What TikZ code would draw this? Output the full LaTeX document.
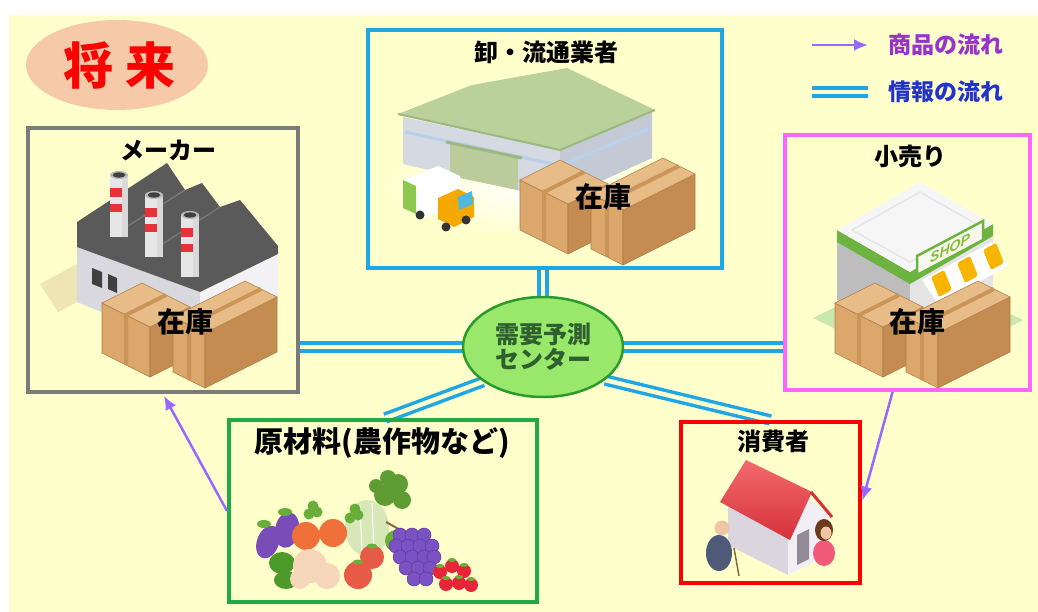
\documentclass[tikz,border=0pt]{standalone}
\usepackage{fontspec}
\newfontfamily\jp{Noto Sans CJK JP}
\newfontfamily\shopfont{Liberation Sans}
\usetikzlibrary{arrows.meta,calc,shapes.geometric}
\definecolor{bgc}{HTML}{FFFFCC}
\definecolor{titlebg}{HTML}{F6C9A9}
\definecolor{infoc}{HTML}{1EA7E6}
\definecolor{goodsc}{HTML}{9966FF}
\definecolor{makerc}{HTML}{7A7A7A}
\definecolor{retailc}{HTML}{FF66FF}
\definecolor{rawc}{HTML}{22AA44}
\definecolor{consc}{HTML}{FF0000}
\definecolor{hubfill}{HTML}{99E86C}
\definecolor{hubline}{HTML}{2A9A2A}
\definecolor{hubtext}{HTML}{2F5E2F}
\definecolor{legp}{HTML}{9933CC}
\definecolor{legb}{HTML}{2233CC}
% cardboard
\definecolor{cbtop}{HTML}{E8BC86}
\definecolor{cbleft}{HTML}{DBA76A}
\definecolor{cbright}{HTML}{C48C50}
\definecolor{cbtape}{HTML}{C99558}
\definecolor{cbedge}{HTML}{B07C48}
% factory
\definecolor{froof}{HTML}{5A5A5A}
\definecolor{froofline}{HTML}{7A7A7A}
\definecolor{fwallL}{HTML}{D8D8DE}
\definecolor{fwallR}{HTML}{F2F2F4}
\definecolor{fshadow}{HTML}{EEE4B4}
\definecolor{chim}{HTML}{E6E6E6}
\definecolor{chimred}{HTML}{E8323A}
% warehouse
\definecolor{wwallL}{HTML}{D4D9E2}
\definecolor{wwallR}{HTML}{C3CAD6}
\definecolor{wstripe}{HTML}{B8D0EA}
\definecolor{wroof}{HTML}{BBD19C}
\definecolor{wroofedge}{HTML}{9DB77E}
\definecolor{wdoor}{HTML}{BACB9C}
\definecolor{tcab}{HTML}{F5A800}
\definecolor{tglass}{HTML}{4FB8E0}
\definecolor{tgreen}{HTML}{8CC850}
% shop
\definecolor{sgrass}{HTML}{CBE7B0}
\definecolor{swallL}{HTML}{BDBDBD}
\definecolor{swallR}{HTML}{E4E4E4}
\definecolor{sgreen}{HTML}{6DB33F}
\definecolor{sroof}{HTML}{F6F6F6}
\definecolor{ssign}{HTML}{F7F7EC}
\definecolor{sawn}{HTML}{F7B500}
% house
\definecolor{hwall}{HTML}{DAD4DE}
\definecolor{hgable}{HTML}{F1EFF4}
\definecolor{hroofA}{HTML}{F26A6E}
\definecolor{hroofB}{HTML}{D6303A}
\definecolor{hdoor}{HTML}{928A96}
\definecolor{skin}{HTML}{EEC6A6}
\definecolor{mancoat}{HTML}{4E5A78}
\definecolor{hair}{HTML}{6B3A1E}
\definecolor{dress}{HTML}{F05A78}
% produce
\definecolor{eggc}{HTML}{7A4CB8}
\definecolor{leafc}{HTML}{6AAE3A}
\definecolor{pepc}{HTML}{4C9A2A}
\definecolor{orangec}{HTML}{F0703A}
\definecolor{caulic}{HTML}{F6D6B8}
\definecolor{cabbc}{HTML}{D6E8B8}
\definecolor{tomc}{HTML}{E65A46}
\definecolor{grapec}{HTML}{7B52C4}
\definecolor{grapeedge}{HTML}{5E3A9E}
\definecolor{berryc}{HTML}{E62638}
\definecolor{stemc}{HTML}{8A6A3A}
\pgfdeclarelayer{bg}
\pgfdeclarelayer{lines}
\pgfsetlayers{bg,lines,main}
\tikzset{
  frame/.style={draw, line width=4pt, inner sep=0pt},
  boxtitle/.style={font={\jp\fontsize{24}{26}\selectfont\bfseries}, inner sep=0pt},
  stock/.style={font={\jp\fontsize{28}{30}\selectfont\bfseries}, inner sep=0pt},
  info/.style={draw=infoc, line width=3.5pt, double=bgc, double distance=4.5pt},
  goods/.style={draw=goodsc, line width=2.5pt, -{Latex[length=14pt,width=12pt]}},
  cartons/.pic={
    % back carton
    \filldraw[cbedge, fill=cbleft, line width=0.6pt] (0,22) -- (48,46) -- (48,96) -- (0,72) -- cycle;
    \filldraw[cbedge, fill=cbright, line width=0.6pt] (48,46) -- (88,26) -- (88,76) -- (48,96) -- cycle;
    \filldraw[cbedge, fill=cbtop, line width=0.6pt] (0,22) -- (40,2) -- (88,26) -- (48,46) -- cycle;
    \draw[cbtape, line width=4pt] (64,14) -- (24,34) -- (24,84);
    % front carton
    \filldraw[cbedge, fill=cbleft, line width=0.6pt] (71,36) -- (103,52) -- (103,107) -- (71,91) -- cycle;
    \filldraw[cbedge, fill=cbright, line width=0.6pt] (103,52) -- (175,16) -- (175,71) -- (103,107) -- cycle;
    \filldraw[cbedge, fill=cbtop, line width=0.6pt] (71,36) -- (143,0) -- (175,16) -- (103,52) -- cycle;
    \draw[cbtape, line width=4pt] (159,8) -- (87,44) -- (87,99);
  },
  chimney/.pic={
    \fill[chim] (-9,0) rectangle (9,62);
    \fill[chimred] (-9,13) rectangle (9,22);
    \fill[chimred] (-9,29) rectangle (9,37);
    \fill[black!15] (3,0) rectangle (9,62);
    \fill[chim!80!black] (0,0) ellipse (9 and 4);
    \fill[black!75] (0,0) ellipse (6.5 and 2.6);
  }
}
\begin{document}
\begin{tikzpicture}[x=1pt,y=-1pt]
\useasboundingbox (0,0) rectangle (1038,612);
\begin{pgfonlayer}{bg}
  \fill[white] (0,0) rectangle (1038,612);
  \fill[bgc] (9,15) rectangle (1038,612);
\end{pgfonlayer}

% heading
\node[ellipse, fill=titlebg, minimum width=182pt, minimum height=90pt, inner sep=0pt,
      text=red, font={\jp\fontsize{50}{52}\selectfont\bfseries}] (title) at (117,65)
      {\hspace{4pt}将\hspace{12pt}来};

% legend
\coordinate (lgA) at (812,45);
\coordinate (lgB) at (868,45);
\coordinate (lgC) at (812,92);
\coordinate (lgD) at (868,92);
\draw[goods] (lgA) -- (lgB);
\draw[info] (lgC) -- (lgD);
\node[font={\jp\fontsize{23}{25}\selectfont\bfseries}, text=legp, inner sep=0pt] (lgtxtA) at (946,45) {商品の流れ};
\node[font={\jp\fontsize{23}{25}\selectfont\bfseries}, text=legb, inner sep=0pt] (lgtxtB) at (946,92) {情報の流れ};

% ---------- factory ----------
\fill[fshadow] (40,284) -- (77,264) -- (77,302) -- (58,312) -- cycle;
\fill[fwallL] (77,247) -- (200,292) -- (200,352) -- (77,302) -- cycle;
\fill[fwallR] (200,292) -- (278,254) -- (278,302) -- (200,352) -- cycle;
\fill[froof] (77,222) -- (167,163) -- (185,190) -- (202,183) -- (220,207) -- (240,200)
   -- (278,246) -- (278,254) -- (200,292) -- (77,247) -- cycle;
\draw[froofline, line width=1.2pt] (185,190) -- (112,236) (220,207) -- (150,252);
\fill[black!75] (92,268) -- (102,272) -- (102,288) -- (92,284) -- cycle;
\fill[black!75] (108,274) -- (117,278) -- (117,293) -- (108,289) -- cycle;
\pic at (119,175) {chimney};
\pic at (154,195) {chimney};
\pic at (190,215) {chimney};
\pic at (102,281) {cartons};

% ---------- warehouse ----------
\shade[inner color=white, outer color=bgc] (540,188) ellipse (160 and 48);
\fill[wwallL] (403,117) -- (560,150) -- (560,200) -- (403,164) -- cycle;
\fill[wwallR] (560,150) -- (652,112) -- (652,158) -- (560,200) -- cycle;
\draw[wstripe, line width=3pt] (405,132) -- (558,165);
\draw[wstripe, line width=3pt] (562,165) -- (650,128);
\fill[wdoor] (450,144) -- (518,158) -- (518,190) -- (450,176) -- cycle;
\draw[wroofedge, line width=3pt] (446,142) -- (522,158);
\fill[wroof] (398,114) -- (472,85) -- (567,68) -- (655,110) -- (560,150) -- cycle;
\draw[wroofedge, line width=2pt] (398,114) -- (560,150) -- (655,110);
% truck
\fill[white] (403,180) -- (438,166) -- (460,176) -- (460,204) -- (424,218) -- (403,208) -- cycle;
\fill[tgreen] (403,180) -- (416,186) -- (416,214) -- (403,208) -- cycle;
\fill[tcab] (438,198) -- (458,189) -- (474,197) -- (474,217) -- (454,227) -- (438,219) -- cycle;
\fill[tglass] (458,197) -- (472,191) -- (473,204) -- (459,210) -- cycle;
\fill[black!80] (420,215) circle (4.5);
\fill[black!80] (446,227) circle (4.5);
\fill[black!80] (466,220) circle (4.5);
\pic at (520,158) {cartons};

% ---------- shop ----------
\fill[sgrass] (813,318) -- (915,268) -- (1023,320) -- (923,372) -- cycle;
\fill[swallL] (837,240) -- (910,283) -- (910,342) -- (837,300) -- cycle;
\fill[swallR] (910,283) -- (993,236) -- (993,292) -- (910,342) -- cycle;
\fill[sgreen] (837,230) -- (910,272) -- (993,224) -- (993,236) -- (910,284) -- (837,242) -- cycle;
\fill[sroof] (837,230) -- (920,182) -- (993,224) -- (910,272) -- cycle;
\draw[black!10, line width=1.5pt] (852,230) -- (920,192) -- (978,225) -- (910,262) -- cycle;
\fill[white] (922,280) -- (992,242) -- (1008,266) -- (938,304) -- cycle;
\foreach \tx/\ty in {931/277, 957/263, 983/250}
  \fill[sawn, rounded corners=2pt] (\tx,\ty) -- ++(13,-7) -- ++(8,20) -- ++(-13,7) -- cycle;
\filldraw[draw=sgreen, fill=ssign, line width=2.5pt] (917,256) -- (983,221) -- (983,240) -- (917,275) -- cycle;
\node[yslant=0.53, font={\shopfont\fontsize{14}{15}\selectfont\bfseries\itshape}, text=sgreen!85!yellow, inner sep=0pt]
  (shoptext) at (950,248) {SHOP};
\pic at (835,281) {cartons};

% ---------- house ----------
\fill[hwall] (728,505) -- (788,535) -- (788,575) -- (728,545) -- cycle;
\fill[hgable] (788,535) -- (808,498) -- (828,515) -- (828,555) -- (788,575) -- cycle;
\fill[hdoor] (797,535) -- (809,529) -- (809,559) -- (797,565) -- cycle;
\shade[top color=hroofA, bottom color=hroofB] (720,502) -- (746,460) -- (812,492) -- (790,540) -- cycle;
\draw[hroofB, line width=3pt] (811,492) -- (832,517);
% elderly man
\fill[mancoat] (719,553) ellipse (13 and 18);
\fill[skin] (722,528) circle (7.5);
\draw[stemc, line width=1.5pt] (734,548) -- (739,576);
% woman
\fill[dress] (824,553) ellipse (11 and 13);
\fill[hair] (824,530) ellipse (9 and 11);
\fill[skin] (826,533) ellipse (5.5 and 6.5);

% ---------- produce ----------
\fill[cabbc] (367,528) ellipse (22 and 28);
\draw[white, line width=1pt] (360,505) -- (362,550) (372,503) -- (374,552);
\foreach \lx/\ly/\lr in {385/495/11, 398/484/10, 402/500/9, 388/478/8, 376/486/7}
  \fill[leafc!90!black] (\lx,\ly) circle (\lr);
\draw[stemc, line width=2pt] (386,522) -- (404,532);
\fill[eggc, rotate around={-20:(268,542)}] (268,542) ellipse (11 and 17);
\fill[eggc, rotate around={-10:(287,530)}] (287,530) ellipse (12 and 18);
\fill[leafc] (264,524) ellipse (7 and 4);
\fill[leafc] (285,512) ellipse (7 and 4);
\fill[orangec] (306,536) circle (14);
\fill[orangec] (333,533) circle (14);
\foreach \lx/\ly in {309/514, 317/512, 313/506, 350/518, 358/515, 355/509}
  \fill[leafc] (\lx,\ly) circle (5.5);
\fill[pepc] (282,563) ellipse (13 and 11);
\fill[pepc] (286,580) ellipse (12 and 9);
\fill[caulic] (310,566) circle (17);
\fill[caulic] (327,576) circle (13);
\fill[caulic] (300,579) circle (10);
\fill[tomc] (372,557) circle (12);
\fill[tomc] (358,575) circle (14);
\fill[leafc] (372,546) ellipse (5 and 2.5);
\fill[leafc] (358,562) ellipse (5 and 2.5);
\fill[leafc] (396,541) circle (11);
\foreach \gx/\gy in {400/535, 412/535, 424/535, 396/546, 408/546, 420/546, 432/546,
                     400/557, 412/557, 424/557, 434/557, 406/568, 418/568, 430/568, 414/579, 426/579}
  \filldraw[draw=grapeedge, fill=grapec, line width=0.5pt] (\gx,\gy) circle (7);
\foreach \sx/\sy in {440/572, 452/566, 464/571, 446/584, 459/583, 471/585}
  {\fill[berryc] (\sx,\sy) circle (7);
   \fill[leafc] (\sx,\sy-6) ellipse (4 and 2);}

% ---------- frames ----------
\node[frame, draw=makerc, minimum width=270pt, minimum height=264pt] (maker) at (163,260) {};
\node[frame, draw=infoc, minimum width=354pt, minimum height=238pt] (dist) at (545,149) {};
\node[frame, draw=retailc, minimum width=245pt, minimum height=255pt] (retail) at (907.5,262.5) {};
\node[frame, draw=rawc, minimum width=308pt, minimum height=182pt] (raw) at (383,511) {};
\node[frame, draw=consc, minimum width=179pt, minimum height=161pt] (cons) at (770.5,502.5) {};

\node[boxtitle] (makerT) at (168,151) {メーカー};
\node[boxtitle] (distT) at (546,52) {卸・流通業者};
\node[boxtitle] (retailT) at (910,156) {小売り};
\node[boxtitle, font={\jp\fontsize{29}{31}\selectfont\bfseries}] (rawT) at (382,443) {原材料(農作物など)};
\node[boxtitle] (consT) at (773,441) {消費者};

\node[stock] (makerS) at (185,322) {在庫};
\node[stock] (distS) at (603,197) {在庫};
\node[stock] (retailS) at (917,322) {在庫};

% ---------- forecasting hub ----------
\node[ellipse, draw=hubline, fill=hubfill, line width=2.5pt, minimum width=160pt, minimum height=100pt,
      inner sep=0pt, align=center, text=hubtext, font={\jp\fontsize{24}{25}\selectfont\bfseries}] (hub) at (543,347)
      {需要予測\\センター};

\coordinate (rawtop) at ($(raw.north west)!0.507!(raw.north east)$);
\coordinate (constop) at ($(cons.north west)!0.5!(cons.north east)$);
\coordinate (retailout) at ($(retail.south west)!0.44!(retail.south east)$);

\begin{pgfonlayer}{lines}
  \draw[info] (hub.north) -- (hub.north |- dist.south);
  \draw[info] (hub.west) -- (hub.west -| maker.east);
  \draw[info] (hub.east) -- (hub.east -| retail.west);
  \draw[info] (hub.-150) -- (rawtop);
  \draw[info] (hub.-28) -- (constop);
\end{pgfonlayer}

% flow of goods
\draw[goods, shorten >=2pt] (raw.west) -- (maker.south);
\draw[goods, shorten >=2pt] (retailout) -- (cons.east);
\end{tikzpicture}
\end{document}
